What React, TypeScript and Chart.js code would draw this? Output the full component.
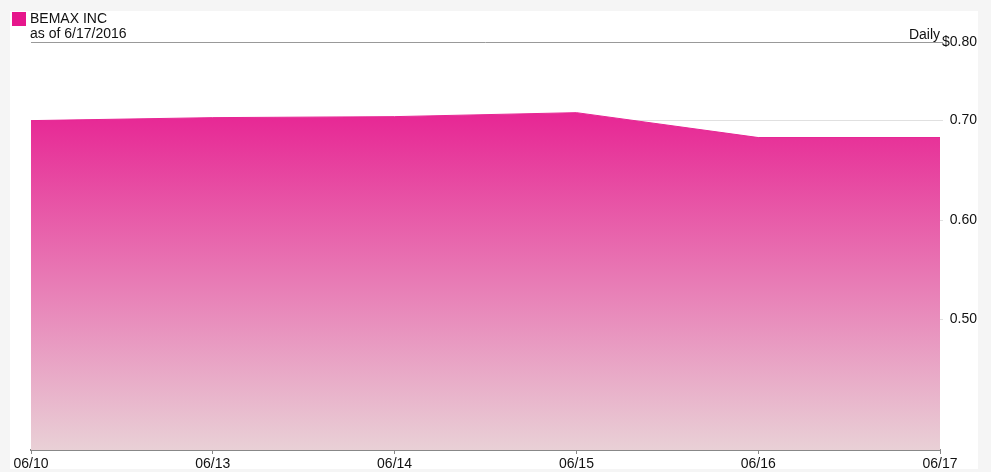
import React, { useEffect, useRef } from "react";
import { Chart, registerables } from "chart.js";

Chart.register(...registerables);

const categories = ["06/10", "06/13", "06/14", "06/15", "06/16", "06/17"];
const prices = [0.7, 0.703, 0.704, 0.708, 0.683, 0.683];
const yTickValues = [0.5, 0.6, 0.7];
const yMin = 0.369;
const yMax = 0.779;
const topTickLabel = "$0.80";
const seriesName = "BEMAX INC";
const asOfLabel = "as of 6/17/2016";
const periodLabel = "Daily";

const FONT = "Arial, 'Liberation Sans', Helvetica, sans-serif";

const headerPlugin = {
  id: "header",
  afterDraw(chart: any) {
    const ctx = chart.ctx;
    const area = chart.chartArea;
    ctx.save();
    ctx.fillStyle = "#e6178c";
    ctx.fillRect(12, 12, 14, 14);
    ctx.fillStyle = "#111";
    ctx.font = `14px ${FONT}`;
    ctx.textBaseline = "middle";
    ctx.textAlign = "left";
    ctx.fillText(seriesName, 30, 19);
    ctx.fillText(asOfLabel, 30, 34);
    ctx.textAlign = "right";
    ctx.fillText(periodLabel, area.right, 35);
    ctx.restore();
  },
};

export default function App() {
  const ref = useRef<HTMLCanvasElement | null>(null);
  useEffect(() => {
    if (!ref.current) return;
    const chart = new Chart(ref.current, {
      type: "line",
      data: {
        labels: categories,
        datasets: [
          {
            label: seriesName,
            data: prices,
            fill: "start",
            tension: 0,
            pointRadius: 0,
            borderWidth: 1,
            borderColor: "rgb(231,38,148)",
            backgroundColor: (c: any) => {
              const chart = c.chart;
              const area = chart.chartArea;
              if (!area) return "rgb(231,38,148)";
              const y = chart.scales.y;
              const top = y.getPixelForValue(Math.max(...prices));
              const g = chart.ctx.createLinearGradient(0, top, 0, area.bottom);
              g.addColorStop(0, "rgb(231,38,148)");
              g.addColorStop(1, "rgb(233,208,214)");
              return g;
            },
          },
        ],
      },
      options: {
        animation: false,
        responsive: false,
        devicePixelRatio: 1,
        layout: { padding: { left: 31, top: 42, right: 14, bottom: 0 } },
        plugins: { legend: { display: false }, tooltip: { enabled: false } },
        scales: {
          x: {
            offset: false,
            grid: { drawOnChartArea: false, tickLength: 4, color: "#888" },
            border: { display: true, color: "#888", width: 2 },
            ticks: {
              color: "#111",
              font: { family: FONT, size: 14 },
              padding: 2,
              maxRotation: 0,
              autoSkip: false,
            },
            afterFit: (s: any) => {
              s.height = 22;
            },
          },
          y: {
            position: "right",
            min: yMin,
            max: yMax,
            afterBuildTicks: (s: any) => {
              s.ticks = [...yTickValues, yMax].map((v) => ({ value: v }));
            },
            grid: {
              tickLength: 3,
              color: (c: any) => (c.tick && c.tick.value === yMax ? "#999" : "#e0e0e0"),
            },
            border: { display: false },
            ticks: {
              color: "#111",
              font: { family: FONT, size: 14 },
              padding: 0,
              crossAlign: "far",
              callback: (v: any) => (v === yMax ? topTickLabel : Number(v).toFixed(2)),
            },
            afterFit: (s: any) => {
              s.width = 37;
            },
          },
        },
      },
      plugins: [headerPlugin],
    });
    return () => chart.destroy();
  }, []);

  return (
    <div style={{ position: "absolute", left: 0, top: 0, width: 991, height: 472, background: "#f5f5f5" }}>
      <div style={{ position: "absolute", left: 10, top: 11, width: 968, height: 458, background: "#fff" }} />
      <canvas
        ref={ref}
        width={991}
        height={472}
        style={{ position: "absolute", left: 0, top: 0, width: 991, height: 472 }}
      />
    </div>
  );
}
